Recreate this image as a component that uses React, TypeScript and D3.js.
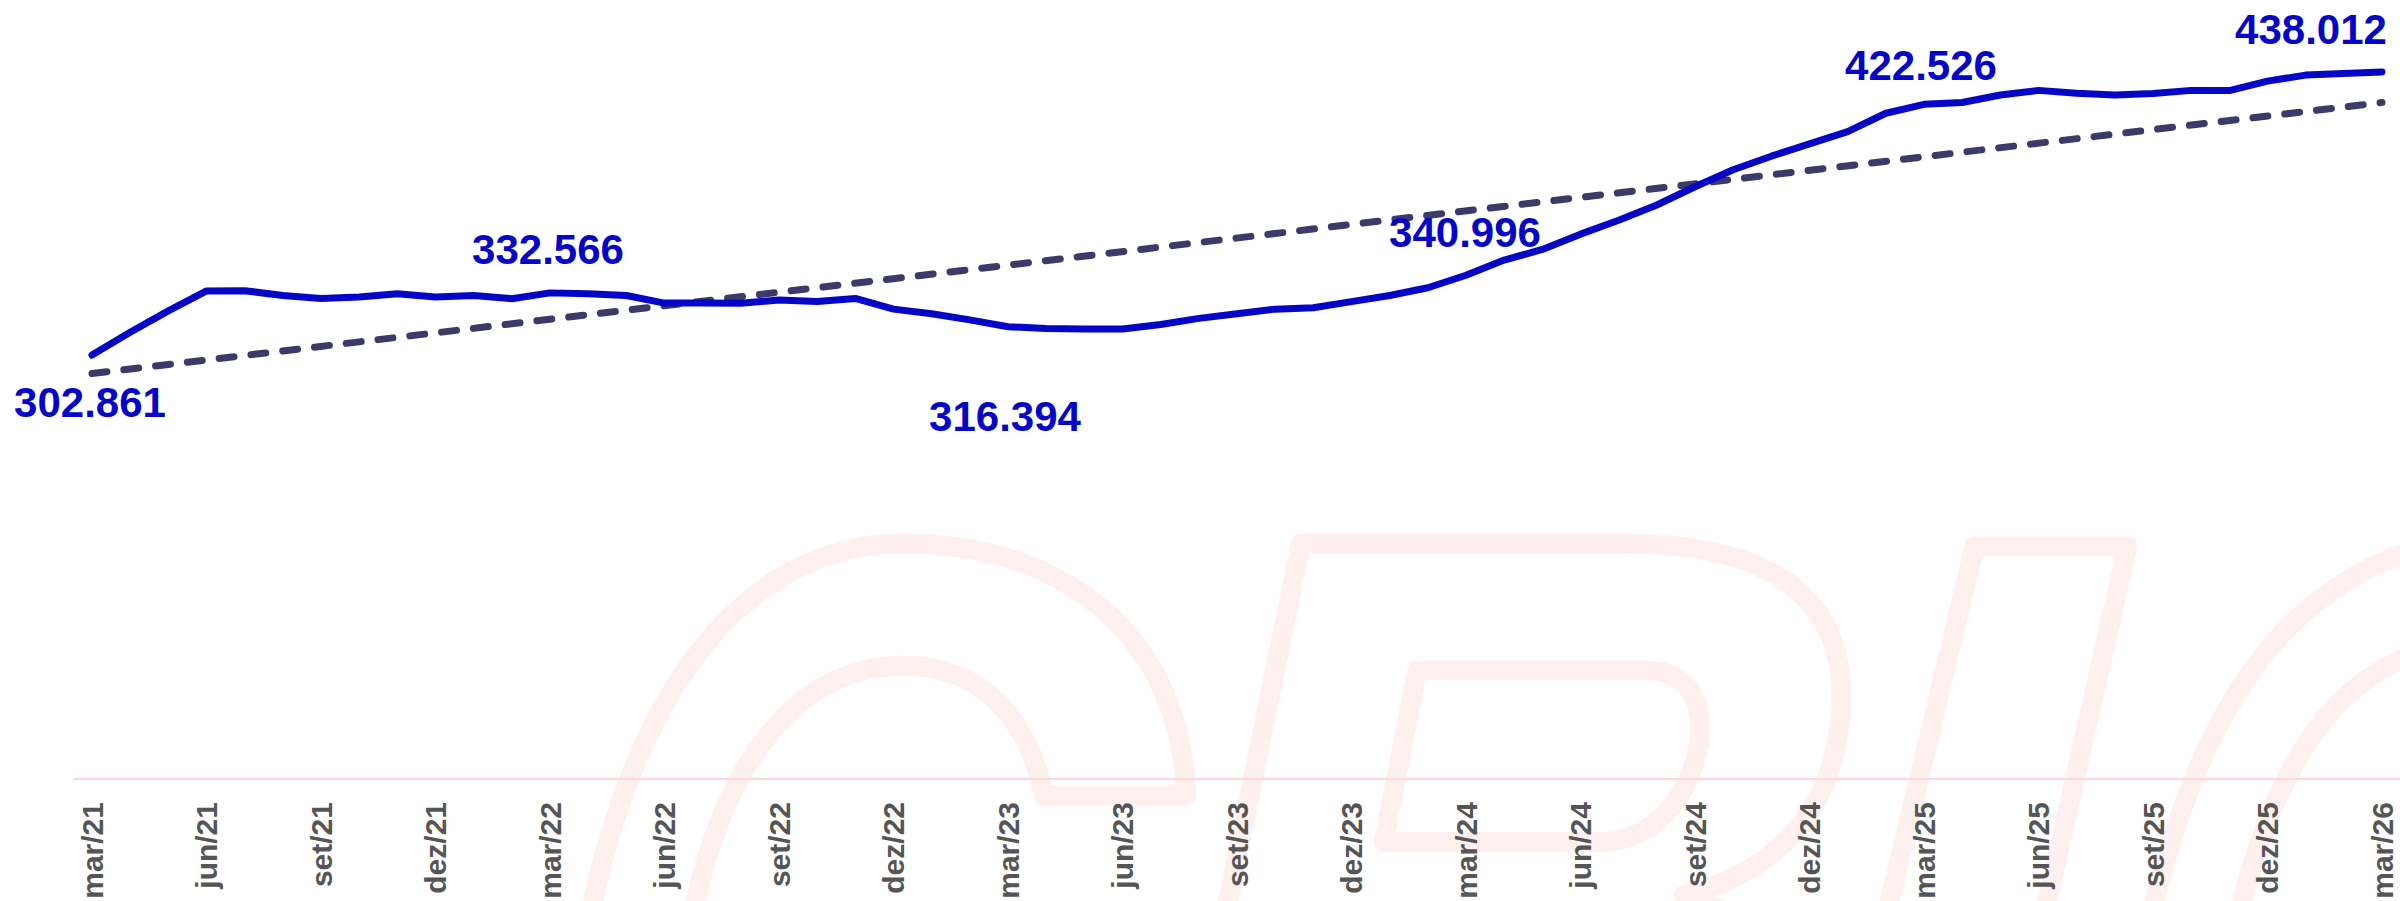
import React from 'react';
import * as d3 from 'd3';

// monthly series, mar/21 .. mar/26
const months = [
  'mar/21','abr/21','mai/21','jun/21','jul/21','ago/21','set/21','out/21','nov/21','dez/21',
  'jan/22','fev/22','mar/22','abr/22','mai/22','jun/22','jul/22','ago/22','set/22','out/22','nov/22','dez/22',
  'jan/23','fev/23','mar/23','abr/23','mai/23','jun/23','jul/23','ago/23','set/23','out/23','nov/23','dez/23',
  'jan/24','fev/24','mar/24','abr/24','mai/24','jun/24','jul/24','ago/24','set/24','out/24','nov/24','dez/24',
  'jan/25','fev/25','mar/25','abr/25','mai/25','jun/25','jul/25','ago/25','set/25','out/25','nov/25','dez/25',
  'jan/26','fev/26','mar/26',
];

const values = [
  302.861, 313.8, 324.0, 333.5, 333.6, 331.3, 329.9, 330.6, 332.1, 330.6,
  331.3, 329.8, 332.566, 332.1, 331.3, 327.7, 327.7, 327.6, 329.2, 328.5, 329.9, 324.8,
  322.6, 319.7, 316.394, 315.6, 315.3, 315.3, 317.5, 320.4, 322.6, 324.8, 325.5, 328.4,
  331.3, 335.0, 340.996, 348.2, 353.3, 360.6, 367.2, 374.5, 383.2, 391.3, 397.8, 403.7,
  409.5, 418.3, 422.526, 423.4, 427.0, 429.2, 427.8, 427.0, 427.7, 429.2, 429.1, 433.6,
  436.5, 437.3, 438.012,
];

// linear trend, start and end values
const trendValues = [294.1, 423.4];

const tickLabels = [
  'mar/21','jun/21','set/21','dez/21','mar/22','jun/22','set/22','dez/22',
  'mar/23','jun/23','set/23','dez/23','mar/24','jun/24','set/24','dez/24',
  'mar/25','jun/25','set/25','dez/25','mar/26',
];

const labelMonths = ['mar/21','mar/22','mar/23','mar/24','mar/25','mar/26'];

const W = 2400;
const H = 901;
const BLUE = '#0505c8';
const TREND = '#3b3a68';
const PINK = '#fff0f0';

// label offsets from their point (layout only)
const labelOffset: Record<string, [number, number]> = {
  'mar/21': [-2, 62],
  'mar/22': [-2, -29],
  'mar/23': [-3, 104],
  'mar/24': [-1, -28],
  'mar/25': [-3, -24],
  'mar/26': [-71, -28],
};

const fmt = (v: number) => v.toFixed(3);

function Watermark() {
  // logo outline, drawn in 1568-wide units then scaled up
  return (
    <g transform="scale(1.5306)" fill="none" stroke={PINK} strokeWidth={13} strokeLinejoin="round">
      <path d="M385 600 C420 430 500 355 590 355 C700 355 772 420 775 520 L682 520 C672 470 642 435 590 435 C520 435 472 500 452 600" />
      <path d="M800 600 L850 355 L1060 355 C1170 355 1205 400 1203 460 C1200 530 1160 570 1100 585 L1140 600" />
      <path d="M926 438 L1078 438 C1110 440 1115 470 1108 495 C1098 530 1075 548 1050 550 L904 550 Z" />
      <path d="M1232 600 L1290 357 L1390 357 L1335 600" />
      <path d="M1405 600 C1440 450 1500 385 1575 360" />
      <path d="M1462 600 C1485 505 1520 450 1575 428" />
    </g>
  );
}

export default function App() {
  const x = d3.scalePoint<string>().domain(months).range([92, 2382]);
  const y = d3.scaleLinear().domain([100, 450]).range([780.2, 46.8]);

  const line = d3.line<number>()
    .x((_, i) => x(months[i])!)
    .y(d => y(d));

  const trendLine = d3.line<number>()
    .x((_, i) => x(i === 0 ? months[0] : months[months.length - 1])!)
    .y(d => y(d));

  return (
    <div>
      <style>{`body{margin:0;background:#fff}`}</style>
      <svg width={W} height={H} style={{ display: 'block' }} fontFamily="'Liberation Sans', Arial, sans-serif">
        <rect width={W} height={H} fill="#fff" />
        <Watermark />

        {/* axis line */}
        <line x1={73} x2={W} y1={779} y2={779} stroke="#ffd6da" strokeWidth={2} />

        {tickLabels.map(t => (
          <text
            key={t}
            transform={`translate(${x(t)},${802}) rotate(-90)`}
            dy="0.36em"
            textAnchor="end"
            fontSize={30}
            fontWeight="bold"
            fill="#555"
          >
            {t}
          </text>
        ))}

        <path d={trendLine(trendValues) ?? ''} fill="none" stroke={TREND} strokeWidth={7}
          strokeDasharray="15 17" strokeLinecap="round" />
        <path d={line(values) ?? ''} fill="none" stroke={BLUE} strokeWidth={7}
          strokeLinejoin="round" strokeLinecap="round" />

        {labelMonths.map(m => {
          const i = months.indexOf(m);
          const [dx, dy] = labelOffset[m];
          return (
            <text key={m} x={x(m)! + dx} y={y(values[i]) + dy} textAnchor="middle"
              fontSize={42} fontWeight="bold" fill={BLUE}>
              {fmt(values[i])}
            </text>
          );
        })}
      </svg>
    </div>
  );
}
